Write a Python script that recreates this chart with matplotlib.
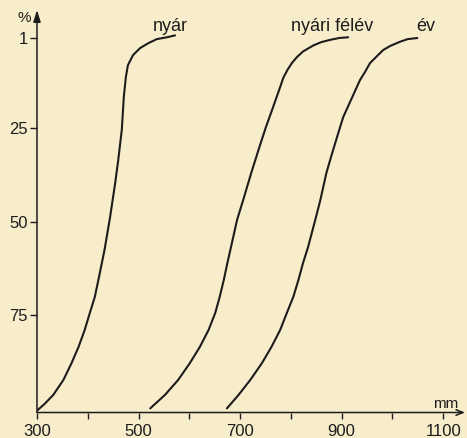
import matplotlib
matplotlib.use("Agg")
from matplotlib import pyplot as plt

plt.rcParams["font.family"] = ["Liberation Sans", "DejaVu Sans"]

# values: precipitation [mm] vs. exceedance [%]
nyar_mm = [572, 556, 536, 519, 503, 489, 479, 475, 471, 467, 460, 454, 444, 433,
           421, 414, 404, 394, 382, 368, 352, 332, 315, 300]
nyar_pct = [0.2, 0.7, 1.2, 2.3, 3.6, 5.5, 8.2, 11.4, 16.7, 25.5, 33.6, 39.7, 48.8, 57.6,
            65.6, 70.1, 74.5, 79.0, 83.5, 87.9, 92.4, 96.4, 98.8, 100.6]

felev_mm = [913, 895, 877, 860, 844, 824, 812, 802, 793, 785, 779, 765, 751, 738, 722,
            706, 694, 684, 675, 668, 660, 651, 638, 621, 601, 578, 552, 523]
felev_pct = [0.7, 0.9, 1.4, 2.0, 2.9, 4.5, 6.0, 7.6, 9.5, 11.6, 14.0, 19.4, 24.7, 30.1, 37.0,
             44.3, 49.6, 55.7, 61.1, 65.6, 70.1, 74.5, 79.0, 83.5, 87.9, 92.4, 96.4, 100]

ev_mm = [1049, 1030, 1015, 996, 982, 970, 956, 946, 936, 921, 903, 891, 879, 870, 858,
         848, 834, 824, 815, 805, 792, 779, 762, 743, 720, 697, 674]
ev_pct = [0.9, 1.2, 1.9, 3.0, 4.1, 5.7, 7.6, 10.0, 12.2, 16.7, 22.1, 27.4, 32.8, 37.0, 44.3,
          49.6, 56.8, 61.1, 65.6, 70.1, 74.5, 79.0, 83.5, 87.9, 92.4, 96.4, 100]

curve_labels = ["nyár", "nyári félév", "év"]
label_mm = [562, 881, 1065]
x_ticks = [300, 400, 500, 600, 700, 800, 900, 1000, 1100]
x_ticklabels = ["300", "", "500", "", "700", "", "900", "", "1100"]
y_ticks = [1, 25, 50, 75]

paper = "#F8EDCB"
ink = "#1c1c1c"

fig = plt.figure(figsize=(4.67, 4.38), dpi=100, facecolor=paper)
ax = fig.add_axes([0.0792, 0.0582, 0.9165, 0.919])
ax.set_facecolor("none")

for xs, ys in [(nyar_mm, nyar_pct), (felev_mm, felev_pct), (ev_mm, ev_pct)]:
    ax.plot(xs, ys, color=ink, lw=1.5, solid_capstyle="round", solid_joinstyle="round")

ax.set_xlim(300, 1143)
ax.set_ylim(101.1, -6.6)

for s in ax.spines.values():
    s.set_visible(False)

# axes drawn as arrows
ax.annotate("", xy=(0, 1), xytext=(0, 0), xycoords="axes fraction",
            arrowprops=dict(arrowstyle="-|>,head_length=0.7,head_width=0.22",
                            color=ink, lw=1.1, shrinkA=0, shrinkB=0))
ax.annotate("", xy=(1, 0), xytext=(0, 0), xycoords="axes fraction",
            arrowprops=dict(arrowstyle="->,head_length=0.5,head_width=0.2",
                            color=ink, lw=1.1, shrinkA=0, shrinkB=0))

ax.set_xticks(x_ticks)
ax.set_xticklabels(x_ticklabels)
ax.set_yticks(y_ticks)
ax.set_yticklabels([str(v) for v in y_ticks])
ax.tick_params(axis="both", colors=ink, labelsize=12, width=1.0)
ax.tick_params(axis="x", length=4, pad=4.5)
ax.tick_params(axis="y", length=5, pad=1.5)

ax.text(-0.03, -4.4, "%", transform=ax.get_yaxis_transform(), ha="center", va="center",
        fontsize=11, color=ink)
ax.text(0.955, 0.012, "mm", transform=ax.transAxes, ha="center", va="baseline",
        fontsize=11, color=ink)

# curve names above their upper ends
for name, xm in zip(curve_labels, label_mm):
    ax.text(xm, -2.1, name, ha="center", va="center", fontsize=13, color=ink)

fig.savefig("out.png", dpi=100, facecolor=paper)
